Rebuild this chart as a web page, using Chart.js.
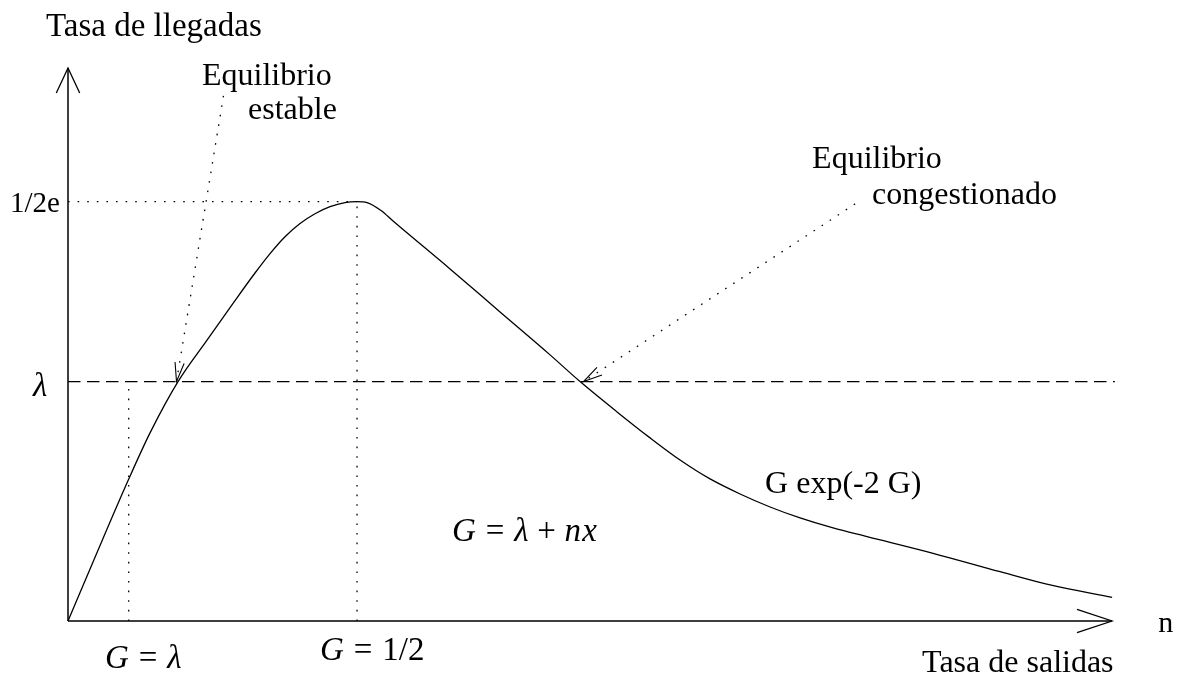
<!DOCTYPE html>
<html>
<head>
<meta charset="utf-8">
<script src="https://cdn.jsdelivr.net/npm/chart.js@4/dist/chart.umd.min.js"></script>
<style>
  html, body { margin: 0; padding: 0; background: #ffffff; }
  #wrap { width: 1177px; height: 675px; }
</style>
</head>
<body>
<div id="wrap"><canvas id="chart" width="1177" height="675"></canvas></div>
<script>
// Offered load G (x) against throughput G·exp(-2G) (y), hand-traced curve
const loadG = [0, 0.0433, 0.1043, 0.1419, 0.1903, 0.2405, 0.2855, 0.3235, 0.3495, 0.3754,
               0.4014, 0.4273, 0.4533, 0.4792, 0.5, 0.5173, 0.5415, 0.5623, 0.6609, 0.7474,
               0.8339, 0.8858, 0.9498, 1.0069, 1.0588, 1.1107, 1.1626, 1.2145, 1.2664, 1.3235,
               1.3824, 1.4965, 1.6125, 1.6990, 1.8062];
const throughput = [0, 0.0259, 0.0618, 0.0825, 0.1050, 0.1232, 0.1393, 0.1526, 0.1611, 0.1685,
                    0.1743, 0.1786, 0.1817, 0.1835, 0.1839, 0.1835, 0.1800, 0.1754, 0.1544, 0.1355,
                    0.1167, 0.1050, 0.0917, 0.0803, 0.0706, 0.0623, 0.0557, 0.0500, 0.0452, 0.0408,
                    0.0370, 0.0297, 0.0216, 0.0158, 0.0104];

const LAMBDA = 0.105;              // arrival rate λ
const G_HALF = 0.5;                // load of maximum throughput
const S_PEAK = 1 / (2 * Math.E);   // maximum throughput 1/2e
const G_MAX = 1.806;               // end of the x axis
const S_MAX = 0.2425;              // end of the y axis
const LAMBDA_LINE_END = 1.811;

// dotted pointers towards the two equilibrium points (start -> tip)
const stableArrowG = [0.2690, 0.1877];
const stableArrowS = [0.2303, LAMBDA];
const congestedArrowG = [1.3616, 0.8919];
const congestedArrowS = [0.1829, LAMBDA];

// text: runs of [text, style] where style 'r' = roman, 'i' = italic, number = gap in em
const labelRuns = [
  [['Tasa de llegadas', 'r']],
  [['Equilibrio', 'r']],
  [['estable', 'r']],
  [['1/2e', 'r']],
  [['λ', 'i']],
  [['G', 'i'], 0.3, ['=', 'r'], 0.3, ['λ', 'i']],
  [['G', 'i'], 0.3, ['=', 'r'], 0.3, ['1/2', 'r']],
  [['G', 'i'], 0.3, ['=', 'r'], 0.3, ['λ', 'i'], 0.26, ['+', 'r'], 0.26, ['n', 'i'], 0.04, ['x', 'i']],
  [['G exp(-2 G)', 'r']],
  [['Equilibrio', 'r']],
  [['congestionado', 'r']],
  [['n', 'r']],
  [['Tasa de salidas', 'r']]
];
const labelG = [-0.0381, 0.2318, 0.3114, -0.1003, -0.0606, 0.0640, 0.4360, 0.6644, 1.2059, 1.2872, 1.3910, 1.8858, 1.4775];
const labelS = [0.2566, 0.2351, 0.2202, 0.1794, 0.0987, -0.0206, -0.0171, 0.0349, 0.0561, 0.1987, 0.1829, -0.0050, -0.0224];
const labelSize = [33, 32, 32, 29, 33, 33, 33, 33, 32, 32, 32, 30, 32];

const FONT = "'Liberation Serif', 'Times New Roman', serif";
const pts = (xs, ys) => xs.map((x, i) => ({ x: x, y: ys[i] }));

const DOT = [1.6, 8];
const lineSet = (data, extra) => Object.assign({
  data: data, showLine: true, borderColor: '#000', borderWidth: 1.3,
  pointRadius: 0, pointHoverRadius: 0, clip: false, fill: false
}, extra);

function arrowHead(ctx, tipX, tipY, fromX, fromY, len, half) {
  const dx = tipX - fromX, dy = tipY - fromY;
  const d = Math.hypot(dx, dy);
  const ux = dx / d, uy = dy / d;
  const bx = tipX - ux * len, by = tipY - uy * len;
  ctx.beginPath();
  ctx.moveTo(bx - uy * half, by + ux * half);
  ctx.lineTo(tipX, tipY);
  ctx.lineTo(bx + uy * half, by - ux * half);
  ctx.stroke();
}

const decorations = {
  id: 'decorations',
  afterDatasetsDraw(chart) {
    const ctx = chart.ctx;
    const xs = chart.scales.x, ys = chart.scales.y;
    const px = v => xs.getPixelForValue(v), py = v => ys.getPixelForValue(v);
    ctx.save();
    ctx.strokeStyle = '#000';
    ctx.fillStyle = '#000';
    ctx.setLineDash([]);

    // axes with open arrowheads
    const ox = px(0), oy = py(0);
    ctx.lineWidth = 1.5;
    ctx.beginPath();
    ctx.moveTo(ox, oy); ctx.lineTo(ox, py(S_MAX));
    ctx.moveTo(ox, oy); ctx.lineTo(px(G_MAX), oy);
    ctx.stroke();
    ctx.lineWidth = 1.3;
    arrowHead(ctx, ox, py(S_MAX), ox, oy, 25, 11.7);
    arrowHead(ctx, px(G_MAX), oy, ox, oy, 35, 11.7);

    // heads of the dotted pointers
    ctx.lineWidth = 1.1;
    arrowHead(ctx, px(stableArrowG[1]), py(stableArrowS[1]), px(stableArrowG[0]), py(stableArrowS[0]), 19, 4.6);
    arrowHead(ctx, px(congestedArrowG[1]), py(congestedArrowS[1]), px(congestedArrowG[0]), py(congestedArrowS[0]), 19, 4.6);

    // text labels
    ctx.textBaseline = 'alphabetic';
    ctx.textAlign = 'left';
    labelRuns.forEach((runs, i) => {
      const size = labelSize[i];
      let x = px(labelG[i]);
      const y = py(labelS[i]);
      runs.forEach(run => {
        if (typeof run === 'number') { x += run * size; return; }
        ctx.font = (run[1] === 'i' ? 'italic ' : '') + size + 'px ' + FONT;
        ctx.fillText(run[0], x, y);
        x += ctx.measureText(run[0]).width;
      });
    });
    ctx.restore();
  }
};

new Chart(document.getElementById('chart'), {
  type: 'scatter',
  data: {
    datasets: [
      lineSet(pts(loadG, throughput), { cubicInterpolationMode: 'monotone', borderWidth: 1.3 }),
      lineSet(pts([0, LAMBDA_LINE_END], [LAMBDA, LAMBDA]), { borderDash: [12.5, 6.5], borderWidth: 1.2 }),
      lineSet(pts([0, G_HALF], [S_PEAK, S_PEAK]), { borderDash: DOT }),
      lineSet(pts([G_HALF, G_HALF], [0, S_PEAK]), { borderDash: DOT }),
      lineSet(pts([LAMBDA, LAMBDA], [0, LAMBDA]), { borderDash: DOT }),
      lineSet(pts(stableArrowG, stableArrowS), { borderDash: DOT }),
      lineSet(pts(congestedArrowG, congestedArrowS), { borderDash: DOT })
    ]
  },
  options: {
    responsive: false,
    animation: false,
    events: [],
    layout: { padding: { left: 68, right: 65, top: 68, bottom: 54 } },
    plugins: { legend: { display: false }, tooltip: { enabled: false }, title: { display: false } },
    scales: {
      x: { type: 'linear', min: 0, max: G_MAX, display: false },
      y: { type: 'linear', min: 0, max: S_MAX, display: false }
    }
  },
  plugins: [decorations]
});
</script>
</body>
</html>
